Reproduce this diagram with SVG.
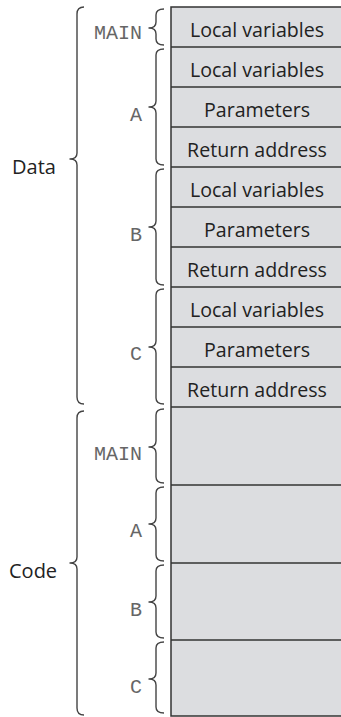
<svg xmlns="http://www.w3.org/2000/svg" width="341" height="717" viewBox="0 0 341 717">
<style>
.cell{fill:#dcdde0;stroke:#333;stroke-width:1.5}
.lbl{font-family:"Open Sans","Noto Sans",sans-serif;font-size:19.6px;fill:#222;text-anchor:middle}
.big{font-family:"Open Sans","Noto Sans",sans-serif;font-size:20px;fill:#222}
.mono{font-family:"Liberation Mono","DejaVu Sans Mono",monospace;font-size:20px;fill:#666;text-anchor:end}
.brace{fill:none;stroke:#444;stroke-width:1.4;stroke-linejoin:round}
</style>
<rect x="0" y="0" width="341" height="717" fill="#fff"/>
<g id="stack">
<rect class="cell" x="171" y="7" width="175" height="709"/>
<g class="cell">
<line x1="171" y1="47" x2="341" y2="47"/>
<line x1="171" y1="87" x2="341" y2="87"/>
<line x1="171" y1="127" x2="341" y2="127"/>
<line x1="171" y1="167" x2="341" y2="167"/>
<line x1="171" y1="207" x2="341" y2="207"/>
<line x1="171" y1="247" x2="341" y2="247"/>
<line x1="171" y1="287" x2="341" y2="287"/>
<line x1="171" y1="327" x2="341" y2="327"/>
<line x1="171" y1="367" x2="341" y2="367"/>
<line x1="171" y1="407" x2="341" y2="407"/>
<line x1="171" y1="485" x2="341" y2="485"/>
<line x1="171" y1="563" x2="341" y2="563"/>
<line x1="171" y1="640" x2="341" y2="640"/>
</g>
<text class="lbl" x="257" y="37">Local variables</text>
<text class="lbl" x="257" y="77">Local variables</text>
<text class="lbl" x="257" y="117">Parameters</text>
<text class="lbl" x="257" y="157">Return address</text>
<text class="lbl" x="257" y="197">Local variables</text>
<text class="lbl" x="257" y="237">Parameters</text>
<text class="lbl" x="257" y="277">Return address</text>
<text class="lbl" x="257" y="317">Local variables</text>
<text class="lbl" x="257" y="357">Parameters</text>
<text class="lbl" x="257" y="397">Return address</text>
</g>
<g id="braces" class="brace">
<path d="M84 7 Q77 7 77 14 L77 153 Q77 159 70 159 Q77 159 77 165 L77 397 Q77 404 84 404"/>
<path d="M84 411 Q77 411 77 418 L77 557 Q77 563 70 563 Q77 563 77 569 L77 708 Q77 715 84 715"/>
<path d="M164 9 Q156 9 156 15 L156 22 Q156 28 149 28 Q156 28 156 34 L156 39 Q156 45 164 45"/>
<path d="M164 49 Q156 49 156 55 L156 101 Q156 107 149 107 Q156 107 156 113 L156 159 Q156 165 164 165"/>
<path d="M164 169 Q156 169 156 175 L156 221 Q156 227 149 227 Q156 227 156 233 L156 279 Q156 285 164 285"/>
<path d="M164 289 Q156 289 156 295 L156 341 Q156 347 149 347 Q156 347 156 353 L156 398 Q156 404 164 404"/>
<path d="M164 409 Q156 409 156 415 L156 441 Q156 447 149 447 Q156 447 156 453 L156 477 Q156 483 164 483"/>
<path d="M164 487 Q156 487 156 493 L156 518 Q156 524 149 524 Q156 524 156 530 L156 555 Q156 561 164 561"/>
<path d="M164 565 Q156 565 156 571 L156 596 Q156 602 149 602 Q156 602 156 608 L156 632 Q156 638 164 638"/>
<path d="M164 642 Q156 642 156 648 L156 673 Q156 679 149 679 Q156 679 156 685 L156 707 Q156 713 164 713"/>
</g>
<g id="labels">
<text class="big" x="12" y="174">Data</text>
<text class="big" x="9" y="578">Code</text>
<text class="mono" x="142" y="39">MAIN</text>
<text class="mono" x="142" y="121">A</text>
<text class="mono" x="142" y="241">B</text>
<text class="mono" x="142" y="360">C</text>
<text class="mono" x="142" y="460">MAIN</text>
<text class="mono" x="142" y="537">A</text>
<text class="mono" x="142" y="616">B</text>
<text class="mono" x="142" y="693">C</text>
</g>
</svg>
